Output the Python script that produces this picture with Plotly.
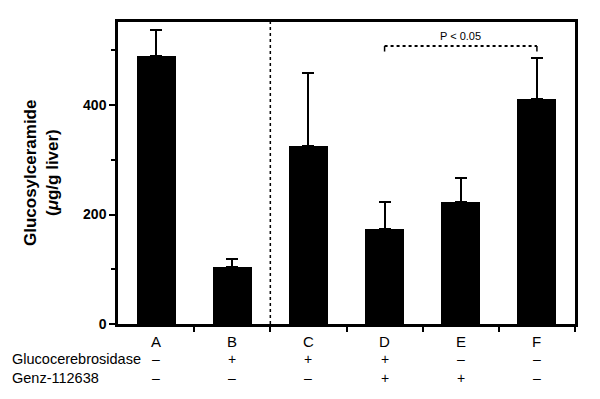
import plotly.graph_objects as go

categories = ["A", "B", "C", "D", "E", "F"]
values = [489, 104, 326, 174, 223, 411]
errors_up = [49, 14, 132, 49, 43, 76]
glucocerebrosidase = ["\u2013", "+", "+", "+", "\u2013", "\u2013"]
genz = ["\u2013", "\u2013", "\u2013", "+", "+", "\u2013"]
row_labels = ["Glucocerebrosidase", "Genz-112638"]
sig_text = "P < 0.05"
sig_pair = [3, 5]
sig_level = 508

FONT = "Liberation Sans, Arial, sans-serif"
# page body has an 8px margin; compensate so the plot area lands at x 118-575, y 19-324
L, R, T, B = 110, 33, 11, 83
PW = 600 - L - R

fig = go.Figure()
fig.add_trace(go.Bar(
    x=list(range(len(categories))), y=values, width=0.51,
    marker=dict(color="black", line=dict(color="black", width=0)),
    error_y=dict(type="data", symmetric=False, array=errors_up,
                 arrayminus=[0] * len(values), color="black",
                 thickness=2, width=6),
    showlegend=False,
))

fig.update_layout(
    width=600, height=399,
    margin=dict(l=L, r=R, t=T, b=B),
    paper_bgcolor="white", plot_bgcolor="white",
    font=dict(family=FONT, color="black"),
    bargap=0,
)
fig.update_xaxes(
    range=[-0.5, 5.5], tickmode="array",
    tickvals=[i + 0.5 for i in range(len(categories))], ticktext=[""] * len(categories),
    ticks="outside", ticklen=5, tickwidth=2, tickcolor="black",
    showline=True, linecolor="black", linewidth=2.5, mirror=True,
    showgrid=False, zeroline=False,
)
fig.update_yaxes(
    range=[0, 552], tickmode="linear", tick0=0, dtick=200,
    tickfont=dict(size=14, family=FONT, weight="bold"),
    ticks="outside", ticklen=6, tickwidth=2, tickcolor="black",
    minor=dict(tick0=0, dtick=100, ticks="outside", ticklen=4, tickwidth=1.5, tickcolor="black", showgrid=False),
    showline=True, linecolor="black", linewidth=2.5, mirror=True,
    showgrid=False, zeroline=False,
)

# category letters and treatment rows
for i, c in enumerate(categories):
    fig.add_annotation(x=i, y=0, yref="y", yshift=-17, text=c, showarrow=False,
                       font=dict(size=15, family=FONT))
    fig.add_annotation(x=i, y=0, yref="y", yshift=-35, text=glucocerebrosidase[i], showarrow=False,
                       font=dict(size=14, family=FONT))
    fig.add_annotation(x=i, y=0, yref="y", yshift=-54, text=genz[i], showarrow=False,
                       font=dict(size=14, family=FONT))
for k, lab in enumerate(row_labels):
    fig.add_annotation(x=(10 - 118) / PW, xref="x domain", xanchor="left", y=0, yref="y",
                       yshift=-35 - 19 * k, text=lab, showarrow=False,
                       font=dict(size=14.5, family=FONT))

# dotted separator between B and C
fig.add_shape(type="line", x0=1.5, x1=1.5, y0=0, y1=552, xref="x", yref="y",
              line=dict(color="black", width=1.5, dash="dot"))

# significance bracket
fig.add_shape(type="line", x0=sig_pair[0], x1=sig_pair[1], y0=sig_level, y1=sig_level,
              line=dict(color="black", width=2, dash="dot"))
for xv in sig_pair:
    fig.add_shape(type="line", x0=xv, x1=xv, y0=sig_level, y1=sig_level - 10,
                  line=dict(color="black", width=1.5))
fig.add_annotation(x=sum(sig_pair) / 2, y=sig_level, yshift=10, text=sig_text, showarrow=False,
                   font=dict(size=11, family=FONT))

# y-axis title (two lines)
fig.add_annotation(x=(30 - 118) / PW, xref="x domain", xanchor="center", y=0.5, yref="y domain",
                   yanchor="middle", text="<b>Glucosylceramide</b>", textangle=-90, showarrow=False,
                   font=dict(size=17, family=FONT))
fig.add_annotation(x=(52 - 118) / PW, xref="x domain", xanchor="center", y=0.5, yref="y domain",
                   yanchor="middle", text="<b>(<i>\u03bc</i>g/g liver)</b>", textangle=-90, showarrow=False,
                   font=dict(size=17, family=FONT))

fig.write_html("out.html")
